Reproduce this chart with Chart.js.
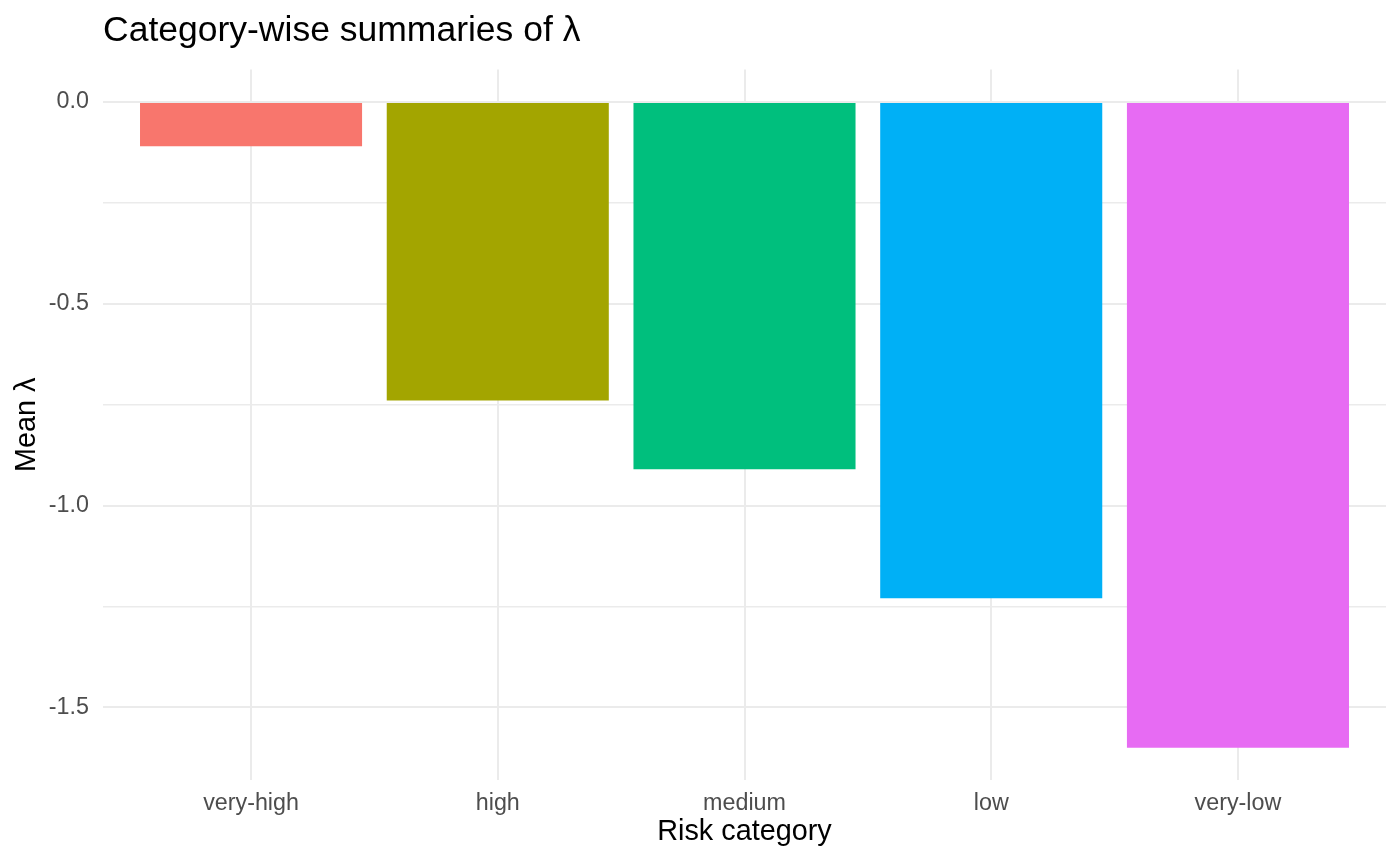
<!DOCTYPE html>
<html>
<head>
<meta charset="utf-8">
<script src="https://cdn.jsdelivr.net/npm/chart.js@4"></script>
<style>
  html, body { margin: 0; padding: 0; background: #fff; }
  #wrap { width: 1400px; height: 865px; }
</style>
</head>
<body>
<div id="wrap"><canvas id="chart"></canvas></div>
<script>
const categories = ["very-high", "high", "medium", "low", "very-low"];
const meanLambda = [-0.11, -0.74, -0.91, -1.23, -1.60];
const yBreaks = [0, -0.5, -1.0, -1.5];
const barColours = ["#F8766D", "#A3A500", "#00BF7D", "#00B0F6", "#E76BF3"];

// ggplot style: 5% padding on the value range, 0.6 on the discrete axis
const lo = Math.min(0, ...meanLambda);
const hi = Math.max(0, ...meanLambda);
const pad = (hi - lo) * 0.05;

// minor gridlines halfway between the major breaks
const yMinor = yBreaks.slice(1).map((b, i) => (b + yBreaks[i]) / 2);
const yAll = yBreaks.concat(yMinor).sort((a, b) => b - a);

Chart.defaults.font.family = '"Liberation Sans", Arial, sans-serif';

new Chart(document.getElementById("chart"), {
    type: "bar",
    data: {
        datasets: [{
            data: meanLambda.map((v, i) => ({ x: i + 1, y: v })),
            backgroundColor: barColours,
            barPercentage: 0.9,
            categoryPercentage: 1.0
        }]
    },
    options: {
        responsive: true,
        maintainAspectRatio: false,
        animation: false,
        layout: { padding: { left: 0, right: 14, top: 0, bottom: 0 } },
        plugins: {
            legend: { display: false },
            tooltip: { enabled: false },
            title: {
                display: true,
                text: "Category-wise summaries of λ",
                align: "start",
                fullSize: false,
                color: "#000",
                font: { size: 35.5, weight: "normal" },
                padding: { top: 10, bottom: 17 }
            }
        },
        scales: {
            x: {
                type: "linear",
                min: 0.4,
                max: categories.length + 0.6,
                offset: false,
                afterBuildTicks: s => { s.ticks = categories.map((c, i) => ({ value: i + 1 })); },
                afterFit: s => { s.height = 85; },
                ticks: {
                    callback: v => categories[v - 1],
                    color: "#4D4D4D",
                    font: { size: 23.3 },
                    padding: 10,
                    maxRotation: 0,
                    autoSkip: false
                },
                grid: { color: "#EBEBEB", lineWidth: 2, drawTicks: false, offset: false },
                border: { display: false },
                title: {
                    display: true,
                    text: "Risk category",
                    color: "#000",
                    font: { size: 28.8 },
                    padding: { top: 0, bottom: 16 }
                }
            },
            y: {
                min: lo - pad,
                max: hi + pad,
                afterBuildTicks: s => { s.ticks = yAll.map(v => ({ value: v })); },
                afterFit: s => { s.width = 103; },
                ticks: {
                    callback: v => yBreaks.includes(v) ? v.toFixed(1) : "",
                    color: "#4D4D4D",
                    font: { size: 23.3 },
                    padding: 14
                },
                grid: {
                    color: "#EBEBEB",
                    lineWidth: ctx => yBreaks.includes(ctx.tick.value) ? 2 : 1.5,
                    drawTicks: false
                },
                border: { display: false },
                title: {
                    display: true,
                    text: "Mean λ",
                    color: "#000",
                    font: { size: 28.8 },
                    padding: { top: 10, bottom: 0 }
                }
            }
        }
    }
});
</script>
</body>
</html>
